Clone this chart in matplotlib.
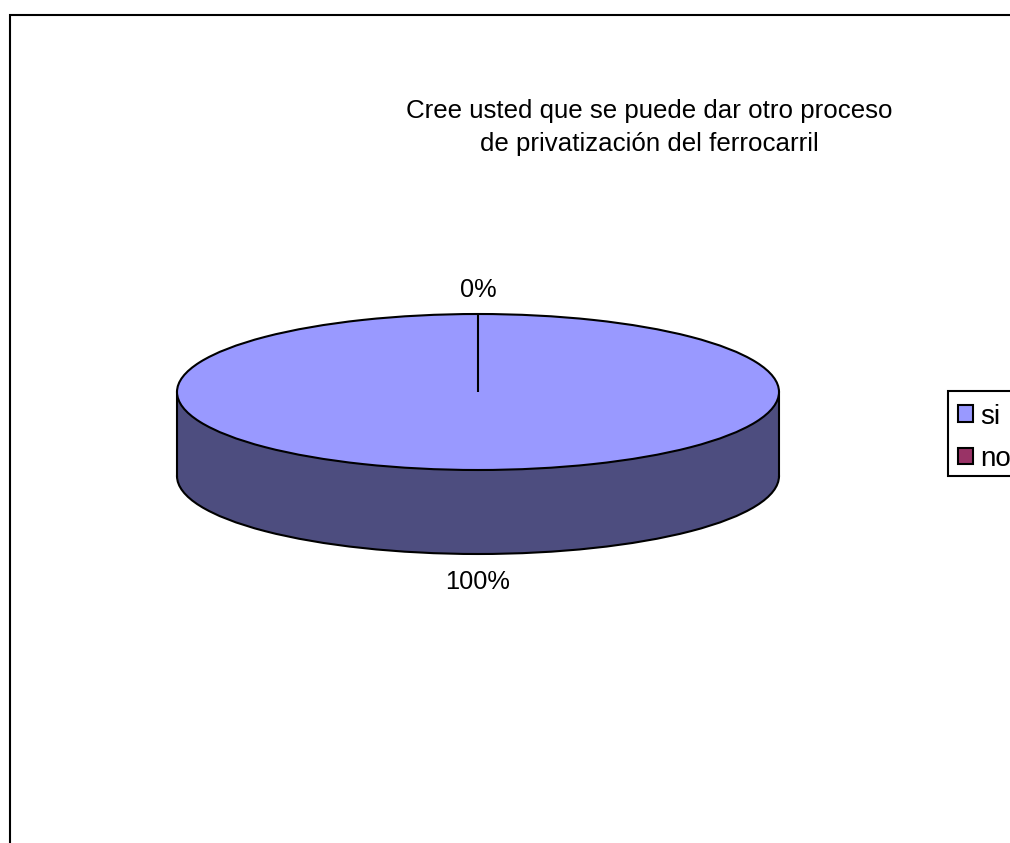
import matplotlib
matplotlib.use("Agg")
import matplotlib.pyplot as plt
from matplotlib.patches import Ellipse, Rectangle

categories = ["si", "no"]
values = [100, 0]
title_lines = ["Cree usted que se puede dar otro proceso", "de privatización del ferrocarril"]
colors = ["#9999FF", "#993366"]
side_color = "#4D4D7F"

W, H = 1010, 843
plt.rcParams["font.family"] = ["Liberation Sans", "DejaVu Sans"]
fig = plt.figure(figsize=(W / 100, H / 100), dpi=100, facecolor="white")

# page-level axes in pixel coordinates
bg = fig.add_axes([0, 0, 1, 1])
bg.set_xlim(0, W)
bg.set_ylim(H, 0)
bg.axis("off")
bg.add_patch(Rectangle((10, 15), W + 50, H + 50, fc="white", ec="black", lw=1.5, clip_on=True))

for line, y in zip(title_lines, [111, 144]):
    bg.text(649, y, line, ha="center", va="center", fontsize=18.6, color="black")

# pie axes: ellipse spans the top face of the disc
x0, x1, y0, y1 = 177, 779, 314, 470
ax = fig.add_axes([x0 / W, 1 - y1 / H, (x1 - x0) / W, (y1 - y0) / H], zorder=2)
ax.patch.set_alpha(0)
depth = 84 / ((y1 - y0) / 2)

# side wall of the disc
ax.add_patch(Ellipse((0, -depth), 2, 2, fc=side_color, ec="black", lw=1.5, clip_on=False, zorder=1))
ax.add_patch(Rectangle((-1, -depth), 2, depth, fc=side_color, ec="none", clip_on=False, zorder=1.1))
ax.plot([-1, -1], [0, -depth], color="black", lw=1.5, clip_on=False, zorder=1.2)
ax.plot([1, 1], [0, -depth], color="black", lw=1.5, clip_on=False, zorder=1.2)

wedges, _ = ax.pie(values, colors=colors, startangle=90, counterclock=False,
                   wedgeprops=dict(edgecolor="black", linewidth=1.5, zorder=2))
ax.set_aspect("auto")
ax.set_xlim(-1, 1)
ax.set_ylim(-1, 1)
ax.axis("off")

total = sum(values)
for v, (x, y) in zip(values[::-1], [(478, 290), (478, 582)]):
    bg.text(x, y, f"{v / total:.0%}", ha="center", va="center", fontsize=18.3, color="black")

# legend frame runs off the right edge of the page
bg.add_patch(Rectangle((948, 391), 100, 85, fc="white", ec="black", lw=1.5, clip_on=True, zorder=3))
leg = bg.legend(wedges, categories, loc="upper left", bbox_to_anchor=(948, 393.5),
                bbox_transform=bg.transData, fontsize=20, frameon=False,
                borderaxespad=0, borderpad=0.36,
                handlelength=0.54, handleheight=0.54, handletextpad=0.25, labelspacing=0.58)

fig.savefig("out.png", dpi=100)
